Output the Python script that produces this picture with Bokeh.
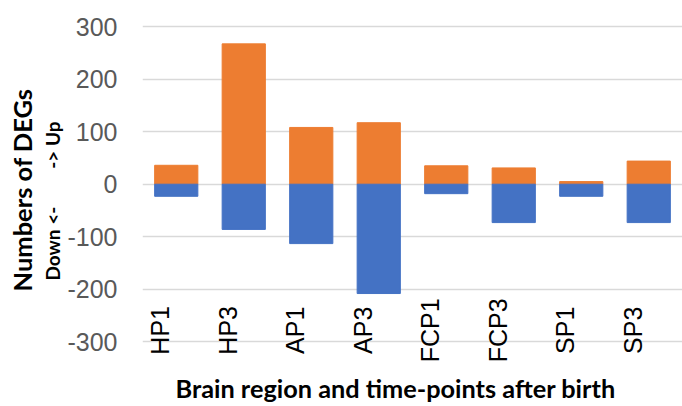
import math
from bokeh.plotting import figure
from bokeh.models import Range1d, FactorRange, FixedTicker, Title
from bokeh.core.properties import value
from bokeh.embed import file_html
from bokeh.resources import INLINE

categories = ["HP1", "HP3", "AP1", "AP3", "FCP1", "FCP3", "SP1", "SP3"]
up_values = [36, 267, 108, 117, 35, 31, 5, 44]
down_values = [-23, -86, -113, -208, -18, -73, -23, -73]
y_ticks = [-300, -200, -100, 0, 100, 200, 300]
y_tick_labels = ["-300", "-200", "-100", "0", "100", "200", "300"]
x_title = "Brain region and time-points after birth"
y_title = "Numbers of DEGs"
up_note = "-> Up"
down_note = "Down <-"

ORANGE = "#ED7D31"
BLUE = "#4472C4"
W, H = 682, 406
LEFT, BOTTOM = 142, 40
FRAME_H = H - BOTTOM

p = figure(width=W, height=H,
           x_range=FactorRange(factors=categories, range_padding=0),
           y_range=Range1d(-346.8, 349.5),
           output_backend="svg", toolbar_location=None,
           min_border_left=LEFT, min_border_right=0,
           min_border_top=0, min_border_bottom=BOTTOM)
p.outline_line_color = None
p.background_fill_color = "white"
p.border_fill_color = "white"

p.xaxis.visible = False
p.xgrid.visible = False

p.yaxis.ticker = FixedTicker(ticks=y_ticks)
p.ygrid.ticker = FixedTicker(ticks=y_ticks)
p.yaxis.major_label_overrides = {t: s for t, s in zip(y_ticks, y_tick_labels)}
p.yaxis.axis_line_color = None
p.yaxis.major_tick_line_color = None
p.yaxis.minor_tick_line_color = None
p.yaxis.major_tick_out = 0
p.yaxis.major_tick_in = 0
p.yaxis.major_label_standoff = 25
p.yaxis.major_label_text_font = "Liberation Sans"
p.yaxis.major_label_text_font_size = "25px"
p.yaxis.major_label_text_color = "#595959"
p.ygrid.grid_line_color = "#D9D9D9"
p.ygrid.grid_line_width = 1.5

p.vbar(x=categories, top=up_values, bottom=0, width=0.64, fill_color=ORANGE,
       line_color=ORANGE)
p.vbar(x=categories, top=0, bottom=down_values, width=0.64, fill_color=BLUE,
       line_color=BLUE)

p.text(x=categories, y=[-278] * len(categories), text=categories,
       angle=math.pi / 2, text_align="center", text_baseline="alphabetic",
       x_offset=-16, text_font=value("Liberation Sans"), text_font_size="25px",
       text_color="black")

# notes line next to the tick labels: "Down <-" ... "-> Up"
notes = down_note + "\u2003\u2003\u2002" + up_note
p.add_layout(Title(text=notes, align="left", offset=86, standoff=2,
                   text_font="Lato", text_font_style="bold",
                   text_font_size="19px", text_color="black"), "left")
p.add_layout(Title(text=y_title, align="left", offset=75, standoff=2,
                   text_font="Lato", text_font_style="bold",
                   text_font_size="25.5px", text_color="black"), "left")
p.add_layout(Title(text=x_title, align="left", offset=33, standoff=8,
                   text_font="Lato", text_font_style="bold",
                   text_font_size="25.3px", text_color="black"), "below")

open("out.html", "w").write(file_html(p, INLINE))
